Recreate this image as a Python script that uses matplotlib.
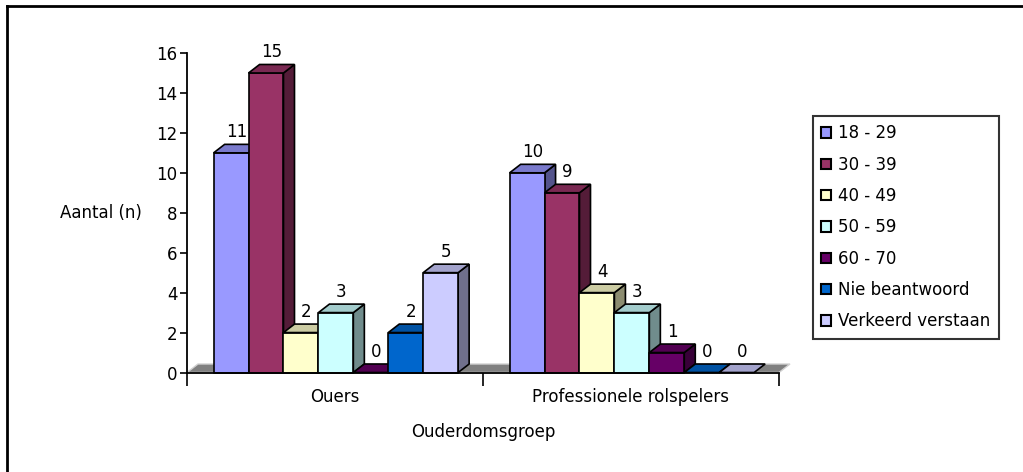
import numpy as np
import matplotlib
matplotlib.use('Agg')
import matplotlib.pyplot as plt
from matplotlib.patches import Polygon, Patch
from matplotlib.lines import Line2D
from matplotlib.colors import to_rgb

plt.rcParams['font.family'] = ['DejaVu Sans']
FS = 12

# ---- data ----
groups = ['Ouers', 'Professionele rolspelers']
series = ['18 - 29', '30 - 39', '40 - 49', '50 - 59', '60 - 70',
          'Nie beantwoord', 'Verkeerd verstaan']
ouers = [11, 15, 2, 3, 0, 2, 5]
professioneel = [10, 9, 4, 3, 1, 0, 0]
colors = ['#9999FF', '#993366', '#FFFFCC', '#CCFFFF', '#660066',
          '#0066CC', '#CCCCFF']

values = np.array([ouers, professioneel])

W, H = 1023, 472
fig = plt.figure(figsize=(W / 100, H / 100), dpi=100)
ax = fig.add_axes([187 / W, (H - 372.5) / H, 592 / W, 319.5 / H])
ax.set_xlim(0, 2)
ax.set_ylim(0, 16)

# depth of the 3D look, in data units
DX = 11 / 296
DY = 8.5 / 20
bar_w = 0.118
start = 0.09


def shade(c, f):
    r, g, b = to_rgb(c)
    return (r * f, g * f, b * f)


# floor
floor = Polygon([(0, 0), (2, 0), (2 + DX, DY), (DX, DY)], closed=True,
                facecolor='#808080', edgecolor='#d0d0d0', lw=1,
                zorder=1, clip_on=False)
ax.add_patch(floor)

z = 2
for gi in range(len(groups)):
    for si in range(len(series)):
        v = values[gi, si]
        x0 = gi + start + si * bar_w
        x1 = x0 + bar_w
        c = colors[si]
        kw = dict(closed=True, edgecolor='black', lw=1.2, clip_on=False,
                  joinstyle='miter')
        if v > 0:
            ax.add_patch(Polygon([(x1, 0), (x1 + DX, DY), (x1 + DX, v + DY), (x1, v)],
                                 facecolor=shade(c, 0.55), zorder=z, **kw))
            ax.add_patch(Polygon([(x0, 0), (x1, 0), (x1, v), (x0, v)],
                                 facecolor=c, zorder=z + 0.1, **kw))
        ax.add_patch(Polygon([(x0, v), (x1, v), (x1 + DX, v + DY), (x0 + DX, v + DY)],
                             facecolor=shade(c, 0.8), zorder=z + 0.2, **kw))
        ax.text((x0 + x1) / 2 + DX / 2, v + DY + 0.15, str(v), ha='center',
                va='bottom', fontsize=FS, zorder=20, clip_on=False)
        z += 1

# axes styling
for s in ['top', 'right']:
    ax.spines[s].set_visible(False)
ax.spines['left'].set_linewidth(1.3)
ax.spines['bottom'].set_linewidth(1.3)
ax.spines['left'].set_zorder(30)
ax.spines['bottom'].set_zorder(30)
ax.set_yticks(np.arange(0, 17, 2))
ax.tick_params(axis='y', direction='out', length=5, width=1.2, labelsize=FS, pad=2)
ax.set_xticks([0, 1, 2])
ax.set_xticklabels([])
ax.tick_params(axis='x', which='major', direction='out', length=9, width=1.2)
ax.set_xticks([0.5, 1.5], minor=True)
ax.set_xticklabels(groups, minor=True)
ax.tick_params(axis='x', which='minor', length=0, labelsize=FS, pad=11)

ax.set_ylabel('Aantal (n)', rotation=0, fontsize=FS, ha='center', va='center')
ax.yaxis.set_label_coords(-0.145, 0.5)
ax.set_xlabel('Ouderdomsgroep', fontsize=FS, va='center')
ax.xaxis.set_label_coords(0.5, -0.186)

# legend
handles = [Patch(facecolor=c, edgecolor='black', lw=1.5) for c in colors]
leg = fig.legend(handles, series, loc='upper left',
                 bbox_to_anchor=(813 / W, 1 - 116 / H), borderaxespad=0,
                 fontsize=FS, frameon=True, fancybox=False, shadow=False,
                 handlelength=0.6, handleheight=0.6, handletextpad=0.4,
                 labelspacing=0.8, borderpad=0.5)
leg.get_frame().set_edgecolor('black')
leg.get_frame().set_linewidth(1.5)

# outer frame (partially visible)
fig.add_artist(Line2D([7 / W, 1], [1 - 6 / H, 1 - 6 / H], color='black', lw=2,
                      transform=fig.transFigure))
fig.add_artist(Line2D([7 / W, 7 / W], [0, 1 - 6 / H], color='black', lw=2,
                      transform=fig.transFigure))

fig.savefig('out.png', dpi=100)
